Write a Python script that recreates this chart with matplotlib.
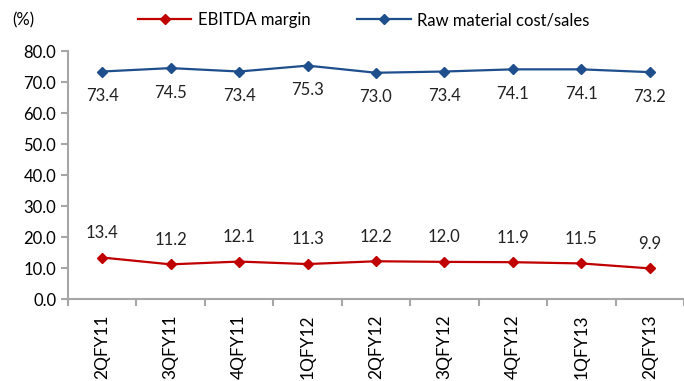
import matplotlib.pyplot as plt
from matplotlib.lines import Line2D

quarters = ["2QFY11", "3QFY11", "4QFY11", "1QFY12", "2QFY12",
            "3QFY12", "4QFY12", "1QFY13", "2QFY13"]
ebitda_margin = [13.4, 11.2, 12.1, 11.3, 12.2, 12.0, 11.9, 11.5, 9.9]
raw_material = [73.4, 74.5, 73.4, 75.3, 73.0, 73.4, 74.1, 74.1, 73.2]
y_ticks = [0, 10, 20, 30, 40, 50, 60, 70, 80]

red = "#C00000"
blue = "#1F4E8C"
grey = "#A6A6A6"
plt.rcParams["font.family"] = ["Lato", "DejaVu Sans"]

fig = plt.figure(figsize=(6.84, 3.81), dpi=100)
ax = fig.add_axes([0.0994, 0.215, 0.9006, 0.651])

x = range(len(quarters))
ax.plot(x, ebitda_margin, color=red, lw=1.6, marker="D", ms=5.5)
ax.plot(x, raw_material, color=blue, lw=1.6, marker="D", ms=5.5)

for i, v in enumerate(ebitda_margin):
    ax.annotate(f"{v:.1f}", (i, v), xytext=(0, 12), textcoords="offset points",
                ha="center", va="bottom", fontsize=12, color="#222222")
for i, v in enumerate(raw_material):
    ax.annotate(f"{v:.1f}", (i, v), xytext=(0, -12), textcoords="offset points",
                ha="center", va="top", fontsize=12, color="#222222")

ax.set_xlim(-0.5, len(quarters) - 0.5)
ax.set_ylim(0, 80)
ax.set_yticks(y_ticks)
ax.set_yticklabels([f"{t:.1f}" for t in y_ticks], fontsize=12)
ax.set_xticks([i - 0.5 for i in range(len(quarters) + 1)])
ax.set_xticklabels([])
ax.set_xticks(list(x), minor=True)
ax.set_xticklabels(quarters, minor=True, rotation=90, fontsize=12.5)
ax.tick_params(axis="x", which="minor", length=0, pad=11)
ax.tick_params(axis="x", which="major", length=5, color=grey, width=1.5)
ax.tick_params(axis="y", length=5, color=grey, width=1.5)

for side in ["top", "right"]:
    ax.spines[side].set_visible(False)
for side in ["left", "bottom"]:
    ax.spines[side].set_color(grey)
    ax.spines[side].set_linewidth(1.5)

fig.text(0.018, 0.947, "(%)", fontsize=12, va="center")
handles = [Line2D([], [], color=red, lw=1.6, marker="D", ms=5.5),
           Line2D([], [], color=blue, lw=1.6, marker="D", ms=5.5)]
fig.legend(handles, ["EBITDA margin", "Raw material cost/sales"],
           loc="center", bbox_to_anchor=(0.532, 0.947), ncol=2, frameon=False,
           fontsize=12, handlelength=3.2, columnspacing=2.8, handletextpad=0.4)

fig.savefig("out.png", dpi=100)
